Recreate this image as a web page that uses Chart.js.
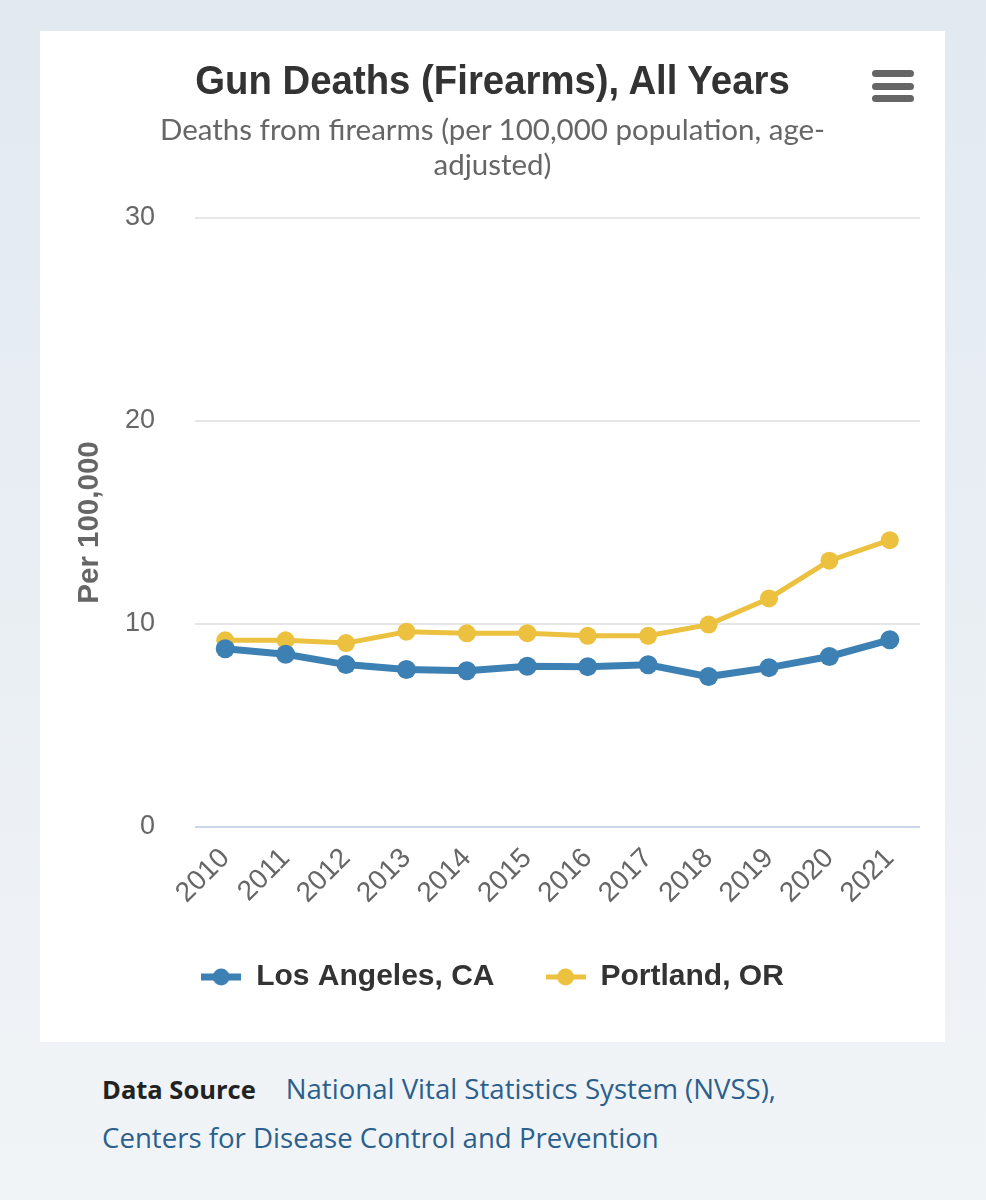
<!DOCTYPE html>
<html>
<head>
<meta charset="utf-8">
<script src="https://cdn.jsdelivr.net/npm/chart.js@4.4.1/dist/chart.umd.min.js"></script>
<style>
  html, body { margin: 0; padding: 0; }
  body {
    width: 986px; height: 1200px; position: relative; overflow: hidden;
    background: linear-gradient(to bottom, #e2e9f1 0%, #eaeff4 55%, #f1f4f7 100%);
  }
  #card {
    position: absolute; left: 40px; top: 31px; width: 905px; height: 1011px;
    background: #ffffff;
  }
  #chartWrap { position: absolute; left: 0; top: 0; width: 905px; height: 1011px; }
  #title {
    position: absolute; left: 0; width: 905px; top: 24px; text-align: center;
    font-family: "Liberation Sans", Arial, sans-serif;
    font-weight: bold; font-size: 41px; line-height: 50px; color: #333333;
    transform: scaleX(0.935); transform-origin: 452.5px 0;
  }
  #subtitle {
    position: absolute; left: 0; width: 905px; top: 80px; text-align: center;
    font-family: Lato, "Open Sans", sans-serif;
    font-size: 29.5px; line-height: 35px; color: #666666;
  }
  #menu { position: absolute; left: 832px; top: 39px; width: 42px; height: 32px; }
  #menu div { position: absolute; left: 0; width: 42px; height: 7px; border-radius: 4px; background: #666666; }
  #source {
    position: absolute; left: 102px; top: 1064px; width: 870px;
    font-family: "Open Sans", Lato, sans-serif; font-size: 27.6px; line-height: 48px; color: #2b5f8c;
  }
  #source b { color: #222222; font-weight: bold; font-size: 25.5px; margin-right: 30px; }
</style>
</head>
<body>
<div id="card">
  <div id="chartWrap"><canvas id="c" width="905" height="1011"></canvas></div>
  <div id="title">Gun Deaths (Firearms), All Years</div>
  <div id="subtitle">Deaths from firearms (per 100,000 population, age-<br>adjusted)</div>
  <div id="menu"><div style="top:0"></div><div style="top:12.5px"></div><div style="top:25px"></div></div>
</div>
<div id="source"><b>Data Source</b>National Vital Statistics System (NVSS),<br>Centers for Disease Control and Prevention</div>

<script>
const years = ["2010","2011","2012","2013","2014","2015","2016","2017","2018","2019","2020","2021"];
const losAngeles = [8.78, 8.51, 8.0, 7.76, 7.70, 7.92, 7.90, 7.99, 7.41, 7.85, 8.40, 9.22];
const portland   = [9.2, 9.2, 9.06, 9.62, 9.54, 9.55, 9.42, 9.42, 9.97, 11.26, 13.12, 14.13];
const seriesNames = ["Los Angeles, CA", "Portland, OR"];
const yTicks = [0, 10, 20, 30];

const blue = "#3d80b3";
const yellow = "#ecc13f";

function legendSymbol(color, lw, r) {
  const cv = document.createElement("canvas");
  cv.width = 40; cv.height = 20;
  const g = cv.getContext("2d");
  g.strokeStyle = color; g.lineWidth = lw;
  g.beginPath(); g.moveTo(0, 10); g.lineTo(40, 10); g.stroke();
  g.fillStyle = color;
  g.beginPath(); g.arc(20, 10, r, 0, Math.PI * 2); g.fill();
  return cv;
}
const symLA = legendSymbol(blue, 7, 8.5);
const symPO = legendSymbol(yellow, 5, 8.5);

new Chart(document.getElementById("c"), {
  type: "line",
  data: {
    labels: years,
    datasets: [
      { label: seriesNames[0], data: losAngeles, borderColor: blue, backgroundColor: blue,
        borderWidth: 7, pointRadius: 9.5, pointHoverRadius: 9.5, pointBorderWidth: 0, tension: 0 },
      { label: seriesNames[1], data: portland, borderColor: yellow, backgroundColor: yellow,
        borderWidth: 5, pointRadius: 9, pointHoverRadius: 9, pointBorderWidth: 0, tension: 0 }
    ]
  },
  options: {
    responsive: false,
    animation: false,
    events: [],
    layout: { padding: { left: 25, right: 25, top: 187, bottom: 40 } },
    plugins: {
      title: { display: false },
      tooltip: { enabled: false },
      legend: {
        position: "bottom",
        labels: {
          usePointStyle: true,
          pointStyleWidth: 40,
          padding: 51,
          color: "#333333",
          font: { family: "'Liberation Sans', Arial, sans-serif", size: 30, weight: "bold" },
          generateLabels: (chart) => chart.data.datasets.map((ds, i) => ({
            text: ds.label, pointStyle: i === 0 ? symLA : symPO, fillStyle: ds.borderColor,
            strokeStyle: ds.borderColor, lineWidth: 0, hidden: false, datasetIndex: i, fontColor: "#333333"
          }))
        }
      }
    },
    scales: {
      x: {
        offset: true,
        grid: { display: false, drawTicks: false },
        border: { display: false },
        afterFit: (s) => { s.height = 84; },
        ticks: {
          minRotation: 45, maxRotation: 45, autoSkip: false, padding: 15,
          color: "#666666",
          font: { family: "'Liberation Sans', Arial, sans-serif", size: 28 }
        }
      },
      y: {
        min: 0, max: 30,
        afterFit: (s) => { s.width = 130; },
        afterBuildTicks: (s) => { s.ticks = yTicks.map(v => ({ value: v })); },
        border: { display: false },
        grid: {
          drawTicks: false, lineWidth: 2,
          color: (ctx) => (ctx.tick && ctx.tick.value === 0) ? "#ccd6eb" : "#e6e6e6"
        },
        ticks: {
          padding: 40, color: "#666666",
          font: { family: "'Liberation Sans', Arial, sans-serif", size: 27 }
        },
        title: {
          display: true, text: "Per 100,000", color: "#666666",
          padding: { top: 7, bottom: 0 },
          font: { family: "'Liberation Sans', Arial, sans-serif", size: 29.5, weight: "bold" }
        }
      }
    }
  }
});
</script>
</body>
</html>
